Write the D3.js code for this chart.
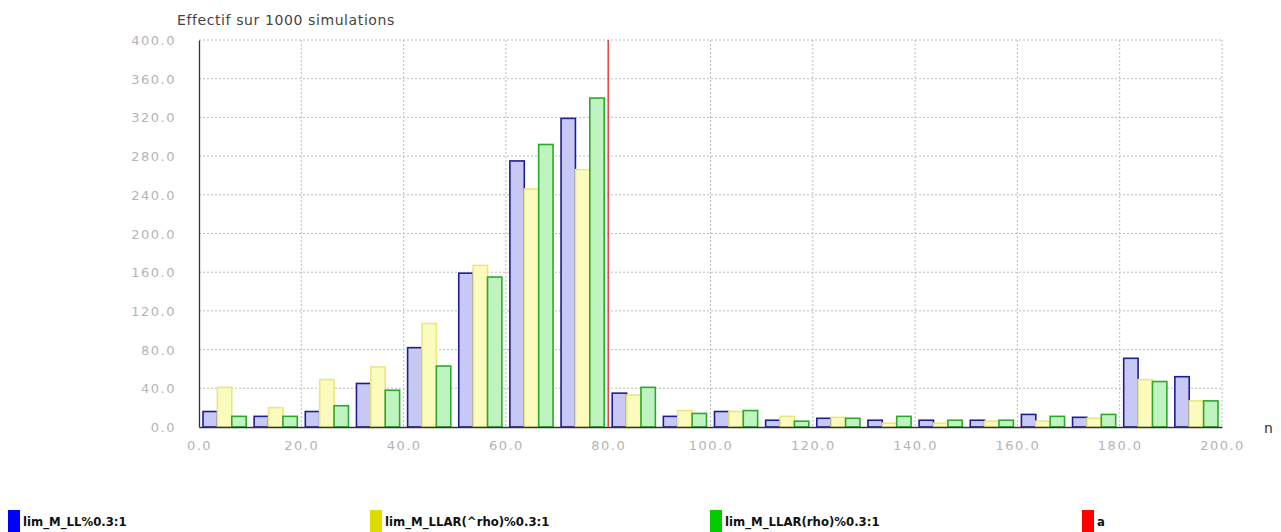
<!DOCTYPE html>
<html>
<head>
<meta charset="utf-8">
<script src="https://cdn.jsdelivr.net/npm/d3@7"></script>
<style>
  html, body { margin: 0; padding: 0; background: #fff; }
  svg { display: block; }
  .tick-label { font-family: "DejaVu Sans", sans-serif; font-size: 13px; fill: #b4b4b4; letter-spacing: 1.5px; }
  .legend-label { font-family: "DejaVu Sans Condensed", "DejaVu Sans", sans-serif; font-weight: bold; font-size: 13px; fill: #111; }
</style>
</head>
<body>
<svg id="chart" width="1281" height="532"></svg>
<script>
// Histogram bins (lower bound of each 10-wide class)
const binStarts = [0, 10, 20, 30, 40, 50, 60, 70, 80, 90, 100, 110, 120, 130, 140, 150, 160, 170, 180, 190];
const binWidth = 10;

// Counts per bin for each estimator
const seriesLL      = [16, 11, 16, 45, 82, 159, 275, 319, 35, 11, 16, 7, 9, 7, 7, 7, 13, 10, 71, 52];
const seriesLLARhat = [41, 20, 49, 62, 107, 167, 246, 266, 33, 17, 16, 11, 10, 4, 4, 6, 6, 9, 49, 27];
const seriesLLARrho = [11, 11, 22, 38, 63, 155, 292, 340, 41, 14, 17, 6, 9, 11, 7, 7, 11, 13, 47, 27];

const seriesNames = ["lim_M_LL%0.3:1", "lim_M_LLAR(^rho)%0.3:1", "lim_M_LLAR(rho)%0.3:1"];
const markerName = "a";
const markerValue = 80;

const xTicks = [0, 20, 40, 60, 80, 100, 120, 140, 160, 180, 200];
const yTicks = [0, 40, 80, 120, 160, 200, 240, 280, 320, 360, 400];
const xTickLabels = ["0.0", "20.0", "40.0", "60.0", "80.0", "100.0", "120.0", "140.0", "160.0", "180.0", "200.0"];
const yTickLabels = ["0.0", "40.0", "80.0", "120.0", "160.0", "200.0", "240.0", "280.0", "320.0", "360.0", "400.0"];

const titleText = "Effectif sur 1000 simulations";
const xAxisName = "n";

// Styling
const fills   = ["#c8c8f4", "#fbfbbe", "#bff3bf"];
const strokes = ["#1e1e8e", "#e8e882", "#2ca82c"];
const legendColors = ["#0000ff", "#dcdc00", "#00cc00", "#ff0000"];

const svg = d3.select("#chart");
const plot = { left: 199, right: 1222, top: 40, bottom: 427 };

const x = d3.scaleLinear().domain([0, 200]).range([plot.left, plot.right]);
const y = d3.scaleLinear().domain([0, 400]).range([plot.bottom, plot.top]);

// Grid lines
const grid = svg.append("g");
grid.selectAll("line.vg").data(xTicks.slice(1)).join("line")
  .attr("x1", d => x(d)).attr("x2", d => x(d))
  .attr("y1", plot.top).attr("y2", plot.bottom)
  .attr("stroke", "#bdbdbd").attr("stroke-width", 1).attr("stroke-dasharray", "2,2");
grid.selectAll("line.hg").data(yTicks.slice(1)).join("line")
  .attr("x1", plot.left).attr("x2", plot.right)
  .attr("y1", d => y(d)).attr("y2", d => y(d))
  .attr("stroke", "#bdbdbd").attr("stroke-width", 1).attr("stroke-dasharray", "2,2");

// Bars: three clustered bars in each bin
const allSeries = [seriesLL, seriesLLARhat, seriesLLARrho];
const pad = 4;
const bars = svg.append("g");
allSeries.forEach((vals, s) => {
  bars.selectAll("rect.s" + s).data(binStarts).join("rect")
    .attr("class", "s" + s)
    .each(function (b, i) {
      const inner = d3.scaleBand().domain([0, 1, 2])
        .range([x(b) + pad, x(b + binWidth) - pad]).padding(0);
      d3.select(this)
        .attr("x", inner(s))
        .attr("width", inner.bandwidth())
        .attr("y", y(vals[i]))
        .attr("height", y(0) - y(vals[i]));
    })
    .attr("fill", fills[s])
    .attr("stroke", strokes[s])
    .attr("stroke-width", 1.6);
});

// Marker line
svg.append("line")
  .attr("x1", x(markerValue)).attr("x2", x(markerValue))
  .attr("y1", plot.top).attr("y2", plot.bottom)
  .attr("stroke", "#e03030").attr("stroke-width", 1.3);

// Axes
const xAxis = d3.axisBottom(x).tickValues(xTicks).tickSize(0).tickFormat((d, i) => xTickLabels[i]);
const yAxis = d3.axisLeft(y).tickValues(yTicks).tickSize(0).tickFormat((d, i) => yTickLabels[i]);

const gx = svg.append("g").attr("transform", `translate(0,${plot.bottom})`).call(xAxis);
gx.select(".domain").attr("stroke", "#333").attr("stroke-width", 1.3);
gx.selectAll("text").attr("class", "tick-label").attr("dy", null).attr("y", 23);

const gy = svg.append("g").attr("transform", `translate(${plot.left},0)`).call(yAxis);
gy.select(".domain").attr("stroke", "#333").attr("stroke-width", 1.3);
gy.selectAll("text").attr("class", "tick-label").attr("x", -23).attr("dy", "0.35em");

// Titles
svg.append("text").attr("x", 177).attr("y", 25)
  .attr("font-family", "DejaVu Sans, sans-serif").attr("font-size", 14)
  .attr("letter-spacing", "0.6px").attr("fill", "#444").text(titleText);
svg.append("text").attr("x", 1264).attr("y", 433)
  .attr("font-family", "DejaVu Sans, sans-serif").attr("font-size", 14)
  .attr("fill", "#333").text(xAxisName);

// Legend
const legendItems = seriesNames.concat([markerName]);
const legendX = [8, 370, 710, 1082];
const lg = svg.append("g");
legendItems.forEach((name, i) => {
  lg.append("rect").attr("x", legendX[i]).attr("y", 510).attr("width", 12).attr("height", 22)
    .attr("fill", legendColors[i]);
  lg.append("text").attr("class", "legend-label").attr("x", legendX[i] + 15).attr("y", 526).text(name);
});
</script>
</body>
</html>
